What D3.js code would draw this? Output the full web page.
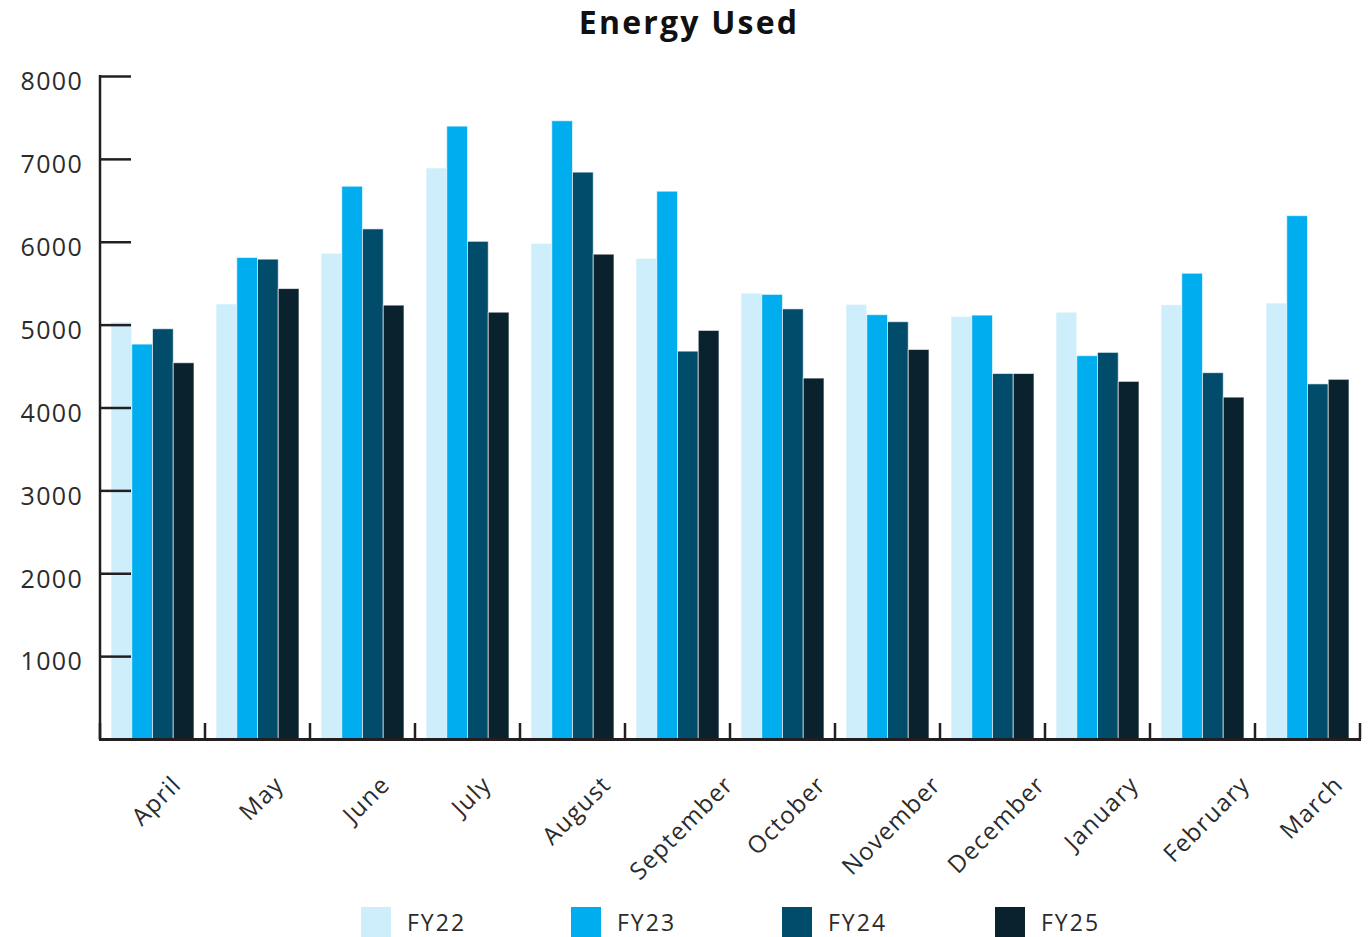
<!DOCTYPE html>
<html>
<head>
<meta charset="utf-8">
<script src="https://cdn.jsdelivr.net/npm/d3@7"></script>
<style>
  html, body { margin: 0; padding: 0; background: #fff; }
  svg { display: block; font-family: "Open Sans", sans-serif; }
</style>
</head>
<body>
<svg id="chart" width="1370" height="937"></svg>
<script>
// Monthly energy use, financial years FY22–FY25
const months = ["April", "May", "June", "July", "August", "September",
  "October", "November", "December", "January", "February", "March"];
const fy22 = [5030, 5250, 5860, 6890, 5980, 5800, 5380, 5245, 5100, 5150, 5240, 5260];
const fy23 = [4765, 5810, 6670, 7395, 7460, 6610, 5365, 5120, 5115, 4625, 5620, 6315];
const fy24 = [4950, 5790, 6155, 6005, 6840, 4680, 5190, 5035, 4410, 4665, 4420, 4285];
const fy25 = [4540, 5435, 5235, 5150, 5850, 4930, 4355, 4700, 4410, 4315, 4125, 4340];
const seriesNames = ["FY22", "FY23", "FY24", "FY25"];
const seriesColors = ["#cdeefa", "#00aeef", "#014b6b", "#0a212e"];
const yTicks = [1000, 2000, 3000, 4000, 5000, 6000, 7000, 8000];

const seriesValues = [fy22, fy23, fy24, fy25];
const rows = months.map((m, i) => ({
  month: m,
  values: seriesNames.map((s, j) => ({ key: s, value: seriesValues[j][i] }))
}));

const svg = d3.select("#chart");
const plotLeft = 100, plotRight = 1360, plotTop = 76, plotBottom = 739;
const axisColor = "#231f20";
const textColor = "#2b2b2b";

const x0 = d3.scaleBand().domain(months).range([plotLeft, plotRight])
  .paddingInner(0.21).paddingOuter(0.105);
const x1 = d3.scaleBand().domain(seriesNames).range([0, x0.bandwidth()]);
const y = d3.scaleLinear().domain([0, 8000]).range([plotBottom, plotTop]);
const color = d3.scaleOrdinal().domain(seriesNames).range(seriesColors);

// Title
svg.append("text")
  .attr("x", 689).attr("y", 34)
  .attr("text-anchor", "middle")
  .attr("font-size", 32).attr("font-weight", 700)
  .attr("letter-spacing", 2.2)
  .attr("fill", "#111")
  .text("Energy Used");

// Bars
const groups = svg.append("g").selectAll("g")
  .data(rows).join("g")
  .attr("transform", d => `translate(${x0(d.month)},0)`);
groups.selectAll("rect")
  .data(d => d.values).join("rect")
  .attr("x", d => x1(d.key))
  .attr("y", d => y(d.value))
  .attr("width", x1.bandwidth())
  .attr("height", d => y(0) - y(d.value))
  .attr("fill", d => color(d.key))
  .attr("stroke", "#ffffff")
  .attr("stroke-opacity", 0.6)
  .attr("stroke-width", 1);

// Y axis with inward ticks
const yAxis = svg.append("g")
  .attr("transform", `translate(${plotLeft},0)`)
  .call(d3.axisLeft(y).tickValues(yTicks).tickFormat(d3.format("d"))
    .tickSizeInner(-31).tickSizeOuter(0).tickPadding(17));
yAxis.select(".domain").attr("stroke", axisColor).attr("stroke-width", 2.5)
  .attr("d", `M0,${plotTop - 1}V${plotBottom + 1}`);
yAxis.selectAll(".tick line").attr("stroke", axisColor).attr("stroke-width", 2.5);
yAxis.selectAll(".tick text")
  .attr("fill", textColor).attr("font-size", 25).attr("letter-spacing", 1.3)
  .attr("dy", "0.55em")
  .attr("font-family", "Open Sans, sans-serif");

// X axis baseline and category boundary ticks
const step = x0.step();
const boundaries = d3.range(months.length + 1).map(i => plotLeft + i * step);
svg.append("line")
  .attr("x1", plotLeft - 1).attr("x2", plotRight + 1)
  .attr("y1", plotBottom + 0.5).attr("y2", plotBottom + 0.5)
  .attr("stroke", axisColor).attr("stroke-width", 3);
svg.append("g").selectAll("line")
  .data(boundaries).join("line")
  .attr("x1", d => d).attr("x2", d => d)
  .attr("y1", plotBottom).attr("y2", plotBottom - 16)
  .attr("stroke", axisColor).attr("stroke-width", 2.5);

// Month labels, rotated 45°, centred under each group
const labelTop = 771;
const labels = svg.append("g").selectAll("text")
  .data(months).join("text")
  .attr("font-size", 24)
  .attr("letter-spacing", 1.2)
  .attr("fill", textColor)
  .attr("text-anchor", "middle")
  .attr("dominant-baseline", "central")
  .text(d => d);
labels.each(function (d) {
  const len = this.getComputedTextLength();
  const h = 24;
  const extent = (len + h) * Math.SQRT1_2;
  const cx = x0(d) + x0.bandwidth() / 2 + 3;
  const cy = labelTop + extent / 2;
  d3.select(this)
    .attr("x", 0).attr("y", 0)
    .attr("transform", `translate(${cx},${cy}) rotate(-45)`);
});

// Legend
const legendX = [361, 571, 782, 995];
const legend = svg.append("g").selectAll("g")
  .data(seriesNames).join("g")
  .attr("transform", (d, i) => `translate(${legendX[i]},907)`);
legend.append("rect")
  .attr("width", 30).attr("height", 30)
  .attr("fill", d => color(d));
legend.append("text")
  .attr("x", 46).attr("y", 24)
  .attr("font-size", 23)
  .attr("letter-spacing", 2)
  .attr("fill", textColor)
  .text(d => d);
</script>
</body>
</html>
